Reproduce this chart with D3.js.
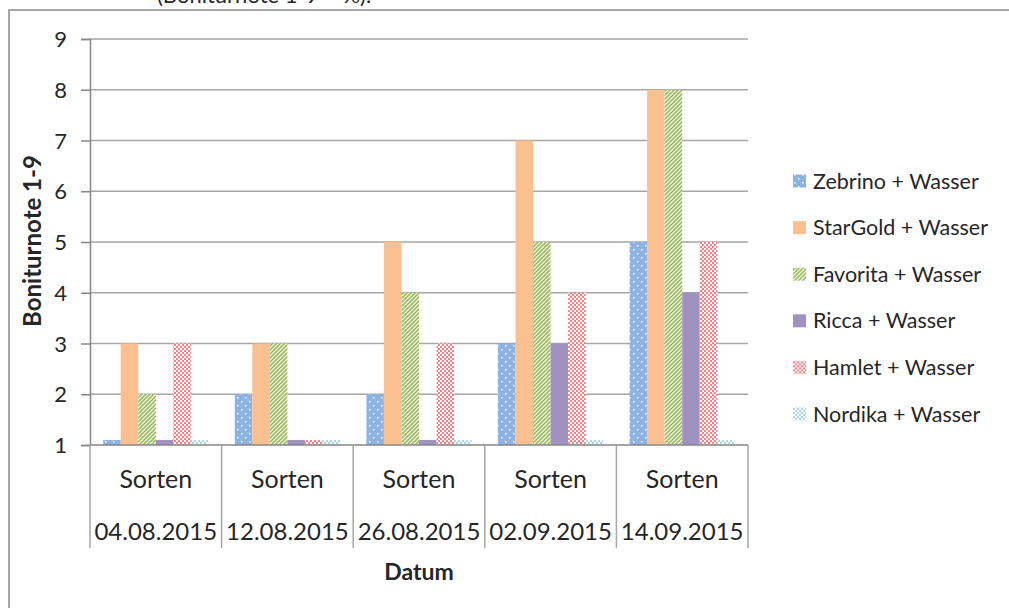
<!DOCTYPE html>
<html><head><meta charset="utf-8">
<script src="https://cdn.jsdelivr.net/npm/d3@7/dist/d3.min.js"></script>
<style>body{margin:0;background:#fff}svg{display:block}text{font-family:Lato,"Open Sans",sans-serif;fill:#262626}</style>
</head><body><svg id="c" width="1009" height="608"></svg>
<script>
const dates = ["04.08.2015","12.08.2015","26.08.2015","02.09.2015","14.09.2015"];
const subLabel = "Sorten";
const series = ["Zebrino + Wasser","StarGold + Wasser","Favorita + Wasser","Ricca + Wasser","Hamlet + Wasser","Nordika + Wasser"];
const zebrino  = [1.1, 2, 2, 3, 5];
const stargold = [3, 3, 5, 7, 8];
const favorita = [2, 3, 4, 5, 8];
const ricca    = [1.1, 1.1, 1.1, 3, 4];
const hamlet   = [3, 1.1, 3, 4, 5];
const nordika  = [1.1, 1.1, 1.1, 1.1, 1.1];
const yTicks = [1,2,3,4,5,6,7,8,9];
const yTitle = "Boniturnote 1-9";
const xTitle = "Datum";
const topText = "(Boniturnote 1-9 = %).";

const values = [zebrino, stargold, favorita, ricca, hamlet, nordika];
const svg = d3.select("#c");
const defs = svg.append("defs");

function pat(id,w,h){return defs.append("pattern").attr("id",id).attr("patternUnits","userSpaceOnUse").attr("width",w).attr("height",h);}
let p = pat("pZeb",8,8);
p.append("rect").attr("width",8).attr("height",8).attr("fill","#8db3e2");
p.append("rect").attr("x",1).attr("y",1).attr("width",1.5).attr("height",1.5).attr("fill","#fff");
p.append("rect").attr("x",5).attr("y",5).attr("width",1.5).attr("height",1.5).attr("fill","#fff");
p = pat("pFav",4,4);
p.append("rect").attr("width",4).attr("height",4).attr("fill","#fff");
p.append("path").attr("d","M-1,1 L1,-1 M0,4 L4,0 M3,5 L5,3").attr("stroke","#9bbb59").attr("stroke-width",1.6);
p = pat("pHam",4,4);
p.append("rect").attr("width",4).attr("height",4).attr("fill","#ff7c80");
p.append("rect").attr("x",0).attr("y",0).attr("width",2).attr("height",2).attr("fill","#fff");
p.append("rect").attr("x",2).attr("y",2).attr("width",2).attr("height",2).attr("fill","#fff");
p = pat("pNor",4,4);
p.append("rect").attr("width",4).attr("height",4).attr("fill","#a9d8e4");
p.append("rect").attr("x",0).attr("y",0).attr("width",2).attr("height",2).attr("fill","#fff");
p.append("rect").attr("x",2).attr("y",2).attr("width",2).attr("height",2).attr("fill","#fff");
const fills = ["url(#pZeb)","#fac090","url(#pFav)","#a092c0","url(#pHam)","url(#pNor)"];

svg.append("rect").attr("x",9).attr("y",10).attr("width",1010).attr("height",620)
  .attr("fill","none").attr("stroke","#8a8a8a").attr("stroke-width",1.5);
svg.append("text").attr("x",157).attr("y",3).attr("font-size",22).text(topText);

const L=90,R=748,T=39,B=445;
const x0 = d3.scaleBand().domain(dates).range([L,R]).paddingInner(0).paddingOuter(0);
const bw = x0.bandwidth();
const x1 = d3.scaleBand().domain(series).range([bw*0.1,bw*0.9]).padding(0);
const y = d3.scaleLinear().domain([1,9]).range([B,T]);

svg.append("g").selectAll("line").data(yTicks.slice(1)).join("line")
  .attr("x1",L).attr("x2",R).attr("y1",d=>y(d)).attr("y2",d=>y(d))
  .attr("stroke","#a6a6a6").attr("stroke-width",1.5);

const g = svg.append("g");
series.forEach((s,si)=>{
  g.append("g").selectAll("rect").data(dates).join("rect")
    .attr("x",d=>x0(d)+x1(s)).attr("width",x1.bandwidth())
    .attr("y",(d,i)=>y(values[si][i])).attr("height",(d,i)=>y(1)-y(values[si][i]))
    .attr("fill",fills[si]);
});

const ya = svg.append("g").attr("transform",`translate(${L},0)`)
  .call(d3.axisLeft(y).tickValues(yTicks).tickFormat(d3.format("d")).tickSize(9).tickPadding(14));
ya.select(".domain").attr("stroke","#868686").attr("stroke-width",1.5);
ya.selectAll(".tick line").attr("stroke","#868686").attr("stroke-width",1.5);
ya.selectAll("text").attr("font-size",22).attr("fill","#262626").attr("font-family","Lato").attr("dy","0.35em");

svg.append("line").attr("x1",L).attr("x2",R).attr("y1",B).attr("y2",B).attr("stroke","#868686").attr("stroke-width",1.5);
const seps = dates.map(d=>x0(d)).concat([R]);
svg.append("g").selectAll("line").data(seps).join("line")
  .attr("x1",d=>d).attr("x2",d=>d).attr("y1",B).attr("y2",548)
  .attr("stroke","#a6a6a6").attr("stroke-width",1.5);
svg.append("g").selectAll("text").data(dates).join("text")
  .attr("x",d=>x0(d)+bw/2).attr("y",479).attr("dy","0.35em").attr("text-anchor","middle")
  .attr("font-size",25).text(subLabel);
svg.append("g").selectAll("text").data(dates).join("text")
  .attr("x",d=>x0(d)+bw/2).attr("y",532).attr("dy","0.35em").attr("text-anchor","middle")
  .attr("font-size",24).text(d=>d);

svg.append("text").attr("x",419).attr("y",572).attr("dy","0.35em").attr("text-anchor","middle")
  .attr("font-size",23).attr("font-weight","bold").attr("fill","#000").text(xTitle);
svg.append("text").attr("transform","translate(33,241) rotate(-90)").attr("dy","0.35em").attr("text-anchor","middle")
  .attr("font-size",24).attr("font-weight","bold").attr("fill","#000").text(yTitle);

const ly = d3.scalePoint().domain(series).range([181,414]);
const lg = svg.append("g").selectAll("g").data(series).join("g")
  .attr("transform",d=>`translate(793,${ly(d)})`);
lg.append("rect").attr("x",0).attr("y",-6.5).attr("width",13).attr("height",13).attr("fill",(d,i)=>fills[i]);
lg.append("text").attr("x",20).attr("dy","0.35em").attr("font-size",21.5).text(d=>d);
</script></body></html>
